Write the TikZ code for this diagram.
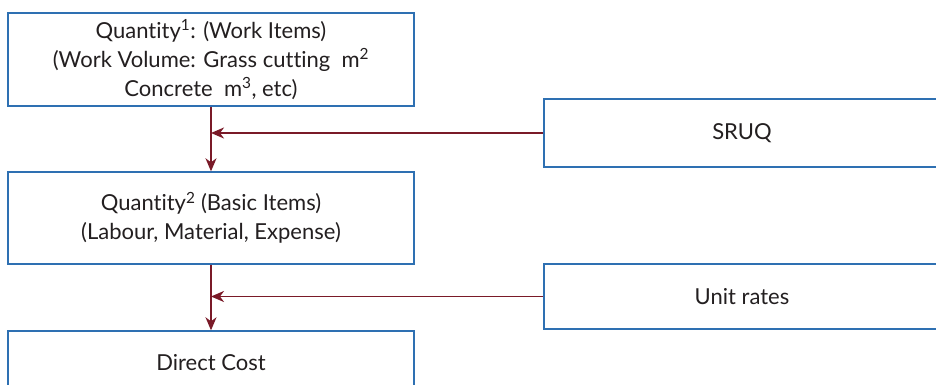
\documentclass[tikz,border=0pt]{standalone}
\usepackage{fontspec}
\setmainfont[Ligatures={NoCommon}]{Lato}
\usetikzlibrary{arrows.meta}
\definecolor{boxblue}{RGB}{46,112,178}
\definecolor{arrred}{RGB}{122,26,40}
\definecolor{txt}{RGB}{35,31,32}
\begin{document}
\begin{tikzpicture}[x=1pt,y=-1pt,
  box/.style={draw=boxblue,line width=1.4pt,fill=white,rectangle,inner sep=0pt,
    text=txt,align=center,font=\fontsize{22}{29}\selectfont},
  conn/.style={draw=arrred,line width=1.5pt,-{Stealth[length=13pt,width=11pt,inset=4pt]}}]
\clip (0,0) rectangle (936,385);
\fill[white] (0,0) rectangle (936,385);
\node[box,minimum width=406pt,minimum height=93pt] (q1) at (211,59.5)
  {Quantity\textsuperscript{1}: (Work Items)\\(Work Volume: Grass cutting\ \ m\textsuperscript{2}\\Concrete\ \ m\textsuperscript{3}, etc)};
\node[box,minimum width=406pt,minimum height=92pt] (q2) at (211,218)
  {Quantity\textsuperscript{2} (Basic Items)\\(Labour, Material, Expense)};
\node[box,minimum width=406pt,minimum height=64pt] (dc) at (211,363)
  {Direct Cost};
\node[box,minimum width=396pt,minimum height=68pt] (sruq) at (742,133) {SRUQ};
\node[box,minimum width=396pt,minimum height=65pt] (ur) at (742,296.5) {Unit rates};
\draw[conn] (q1.south) -- (q2.north);
\draw[conn] (q2.south) -- (dc.north);
\draw[conn] (sruq.west) -- (q1.south |- sruq.west);
\draw[conn] (ur.west) -- (q2.south |- ur.west);
\end{tikzpicture}
\end{document}
